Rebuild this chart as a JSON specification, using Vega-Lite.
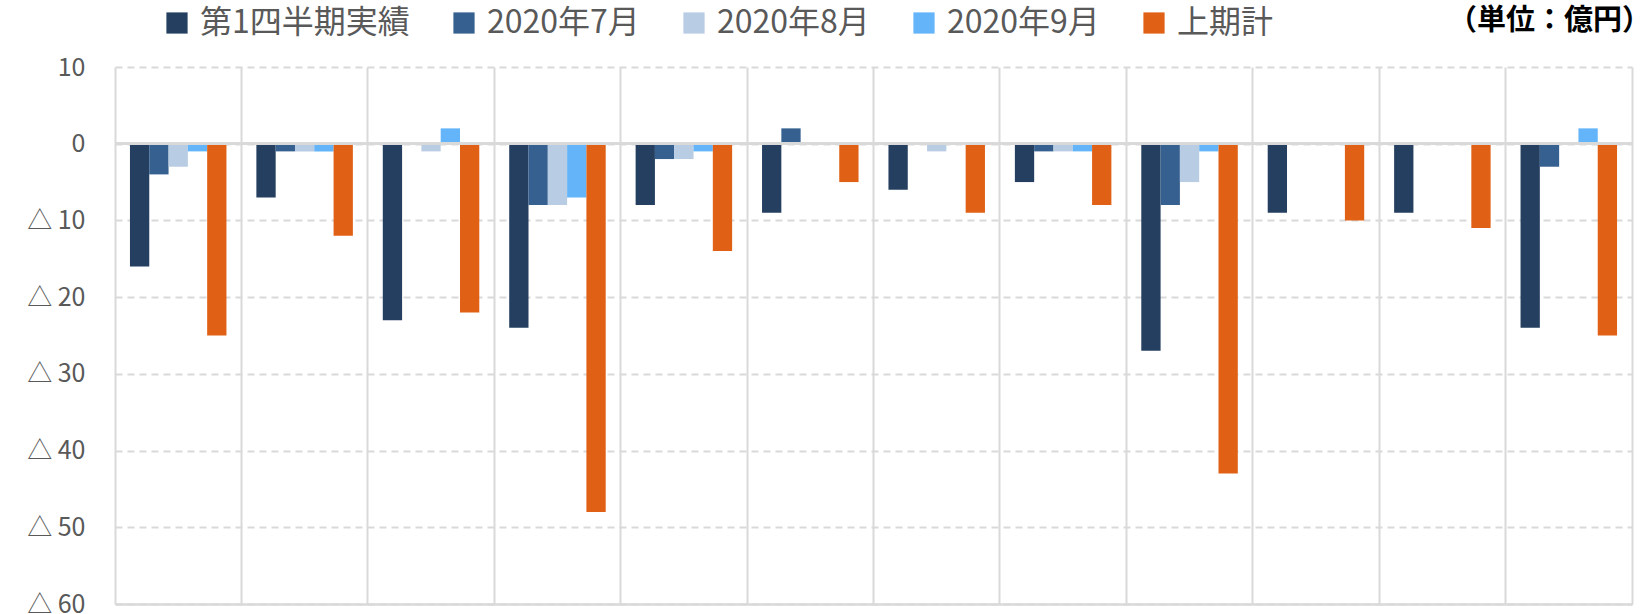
{
  "$schema": "https://vega.github.io/schema/vega-lite/v6.json",
  "width": 1517,
  "height": 537,
  "autosize": {"type": "none"},
  "padding": {"left": 115, "top": 67, "right": 12, "bottom": 10},
  "background": "white",
  "title": {
    "text": "（単位：億円）",
    "anchor": "end",
    "orient": "top",
    "frame": "group",
    "offset": 0,
    "dy": 58,
    "dx": 19,
    "baseline": "bottom",
    "font": "Noto Sans CJK JP",
    "fontSize": 29,
    "fontWeight": "bold",
    "color": "#000000"
  },
  "config": {
    "view": {"stroke": null},
    "font": "Noto Sans CJK JP"
  },
  "data": {
    "values": [
      {"cat": "1", "series": "第1四半期実績", "value": -16},
      {"cat": "1", "series": "2020年7月", "value": -4},
      {"cat": "1", "series": "2020年8月", "value": -3},
      {"cat": "1", "series": "2020年9月", "value": -1},
      {"cat": "1", "series": "上期計", "value": -25},
      {"cat": "2", "series": "第1四半期実績", "value": -7},
      {"cat": "2", "series": "2020年7月", "value": -1},
      {"cat": "2", "series": "2020年8月", "value": -1},
      {"cat": "2", "series": "2020年9月", "value": -1},
      {"cat": "2", "series": "上期計", "value": -12},
      {"cat": "3", "series": "第1四半期実績", "value": -23},
      {"cat": "3", "series": "2020年7月", "value": 0},
      {"cat": "3", "series": "2020年8月", "value": -1},
      {"cat": "3", "series": "2020年9月", "value": 2},
      {"cat": "3", "series": "上期計", "value": -22},
      {"cat": "4", "series": "第1四半期実績", "value": -24},
      {"cat": "4", "series": "2020年7月", "value": -8},
      {"cat": "4", "series": "2020年8月", "value": -8},
      {"cat": "4", "series": "2020年9月", "value": -7},
      {"cat": "4", "series": "上期計", "value": -48},
      {"cat": "5", "series": "第1四半期実績", "value": -8},
      {"cat": "5", "series": "2020年7月", "value": -2},
      {"cat": "5", "series": "2020年8月", "value": -2},
      {"cat": "5", "series": "2020年9月", "value": -1},
      {"cat": "5", "series": "上期計", "value": -14},
      {"cat": "6", "series": "第1四半期実績", "value": -9},
      {"cat": "6", "series": "2020年7月", "value": 2},
      {"cat": "6", "series": "2020年8月", "value": 0},
      {"cat": "6", "series": "2020年9月", "value": 0},
      {"cat": "6", "series": "上期計", "value": -5},
      {"cat": "7", "series": "第1四半期実績", "value": -6},
      {"cat": "7", "series": "2020年7月", "value": 0},
      {"cat": "7", "series": "2020年8月", "value": -1},
      {"cat": "7", "series": "2020年9月", "value": 0},
      {"cat": "7", "series": "上期計", "value": -9},
      {"cat": "8", "series": "第1四半期実績", "value": -5},
      {"cat": "8", "series": "2020年7月", "value": -1},
      {"cat": "8", "series": "2020年8月", "value": -1},
      {"cat": "8", "series": "2020年9月", "value": -1},
      {"cat": "8", "series": "上期計", "value": -8},
      {"cat": "9", "series": "第1四半期実績", "value": -27},
      {"cat": "9", "series": "2020年7月", "value": -8},
      {"cat": "9", "series": "2020年8月", "value": -5},
      {"cat": "9", "series": "2020年9月", "value": -1},
      {"cat": "9", "series": "上期計", "value": -43},
      {"cat": "10", "series": "第1四半期実績", "value": -9},
      {"cat": "10", "series": "2020年7月", "value": 0},
      {"cat": "10", "series": "2020年8月", "value": 0},
      {"cat": "10", "series": "2020年9月", "value": 0},
      {"cat": "10", "series": "上期計", "value": -10},
      {"cat": "11", "series": "第1四半期実績", "value": -9},
      {"cat": "11", "series": "2020年7月", "value": 0},
      {"cat": "11", "series": "2020年8月", "value": 0},
      {"cat": "11", "series": "2020年9月", "value": 0},
      {"cat": "11", "series": "上期計", "value": -11},
      {"cat": "12", "series": "第1四半期実績", "value": -24},
      {"cat": "12", "series": "2020年7月", "value": -3},
      {"cat": "12", "series": "2020年8月", "value": 0},
      {"cat": "12", "series": "2020年9月", "value": 2},
      {"cat": "12", "series": "上期計", "value": -25}
    ]
  },
  "layer": [
    {
      "mark": {"type": "bar"},
      "encoding": {
        "x": {
          "field": "cat",
          "type": "nominal",
          "sort": null,
          "scale": {"paddingInner": 0, "paddingOuter": 0},
          "axis": {
            "title": null,
            "labels": false,
            "ticks": false,
            "domain": true,
            "domainColor": "#d9d9d9",
            "domainWidth": 2.5,
            "grid": true,
            "gridColor": "#d9d9d9",
            "gridWidth": 2,
            "bandPosition": 0
          }
        },
        "xOffset": {
          "field": "series",
          "type": "nominal",
          "sort": ["第1四半期実績", "2020年7月", "2020年8月", "2020年9月", "上期計"],
          "scale": {"paddingInner": 0, "paddingOuter": 0.775}
        },
        "y": {
          "field": "value",
          "type": "quantitative",
          "scale": {"domain": [-60, 10], "nice": false, "zero": false},
          "axis": {
            "title": null,
            "values": [-60, -50, -40, -30, -20, -10, 0, 10],
            "labelExpr": "datum.value < 0 ? '△  ' + (-datum.value) : '' + datum.value",
            "labelFont": "Noto Sans CJK JP",
            "labelFontSize": 25,
            "labelColor": "#595959",
            "labelPadding": 30,
            "ticks": false,
            "domain": false,
            "grid": true,
            "gridColor": "#d9d9d9",
            "gridWidth": 2,
            "gridDash": [7, 5]
          }
        },
        "color": {
          "field": "series",
          "type": "nominal",
          "sort": ["第1四半期実績", "2020年7月", "2020年8月", "2020年9月", "上期計"],
          "scale": {
            "domain": ["第1四半期実績", "2020年7月", "2020年8月", "2020年9月", "上期計"],
            "range": ["#253F60", "#35608F", "#B8CCE4", "#63B4F8", "#E06115"]
          },
          "legend": {
            "title": null,
            "orient": "none",
            "legendX": 46,
            "legendY": -60,
            "direction": "horizontal",
            "symbolType": "square",
            "symbolSize": 450,
            "symbolStrokeWidth": 0,
            "symbolOpacity": 1,
            "labelFont": "Noto Sans CJK JP",
            "labelFontSize": 32,
            "labelColor": "#595959",
            "labelOffset": 7,
            "labelLimit": 400,
            "columnPadding": 38
          }
        }
      }
    },
    {
      "mark": {"type": "rule", "color": "#d9d9d9", "strokeWidth": 2.5},
      "encoding": {
        "y": {
          "datum": 0,
          "type": "quantitative",
          "axis": {
            "orient": "right",
            "title": null,
            "labels": false,
            "ticks": false,
            "grid": false,
            "domain": true,
            "domainColor": "#d9d9d9",
            "domainWidth": 2
          }
        }
      }
    }
  ],
  "resolve": {"axis": {"y": "independent"}}
}
